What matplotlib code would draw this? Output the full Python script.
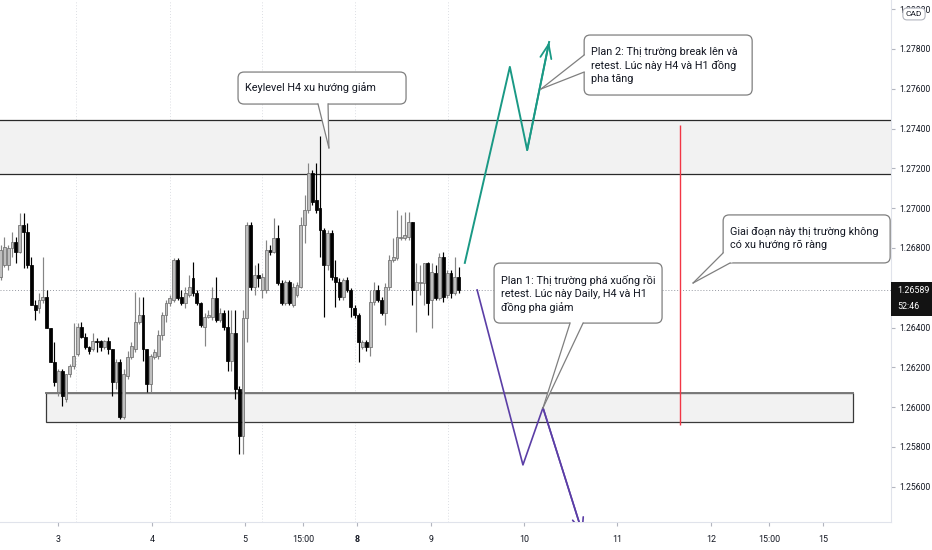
import numpy as np
import matplotlib
matplotlib.use('Agg')
import matplotlib.pyplot as plt
from matplotlib.patches import FancyBboxPatch, Polygon, Rectangle
from matplotlib.transforms import IdentityTransform

# H1 candles
opens = [1.26655, 1.26715, 1.26715, 1.26800, 1.26830, 1.26780, 1.26915, 1.26880, 1.26715, 1.26515,
         1.26500, 1.26540, 1.26555, 1.26400, 1.26225, 1.26075, 1.26180, 1.26040, 1.26165, 1.26205,
         1.26265, 1.26405, 1.26355, 1.26300, 1.26290, 1.26330, 1.26330, 1.26300, 1.26330, 1.26290,
         1.26125, 1.26225, 1.25950, 1.26155, 1.26250, 1.26290, 1.26430, 1.26465, 1.26290, 1.26115,
         1.26250, 1.26255, 1.26365, 1.26465, 1.26525, 1.26540, 1.26740, 1.26555, 1.26525, 1.26565,
         1.26650, 1.26575, 1.26525, 1.26405, 1.26455, 1.26455, 1.26550, 1.26440, 1.26475, 1.26405,
         1.26230, 1.26375, 1.26090, 1.25855, 1.26450, 1.26915, 1.26605, 1.26665, 1.26590, 1.26590,
         1.26790, 1.26780, 1.26850, 1.26625, 1.26525, 1.26630, 1.26515, 1.26565, 1.26605, 1.26915,
         1.26990, 1.27175, 1.27040, 1.27000, 1.26890, 1.26715, 1.26875, 1.26655, 1.26630, 1.26555,
         1.26640, 1.26590, 1.26500, 1.26465, 1.26300, 1.26325, 1.26300, 1.26530, 1.26590, 1.26540,
         1.26475, 1.26605, 1.26740, 1.26750, 1.26850, 1.26850, 1.26855, 1.26930, 1.26590, 1.26625,
         1.26625, 1.26725, 1.26540, 1.26675, 1.26550, 1.26755, 1.26565, 1.26675, 1.26575, 1.26655]
highs = [1.26815, 1.26855, 1.26815, 1.26880, 1.26855, 1.26975, 1.26975, 1.26925, 1.26755, 1.26540,
         1.26575, 1.26755, 1.26590, 1.26400, 1.26325, 1.26190, 1.26190, 1.26165, 1.26215, 1.26425,
         1.26425, 1.26430, 1.26375, 1.26305, 1.26375, 1.26350, 1.26340, 1.26340, 1.26355, 1.26290,
         1.26240, 1.26240, 1.26190, 1.26280, 1.26325, 1.26580, 1.26555, 1.26555, 1.26290, 1.26265,
         1.26290, 1.26390, 1.26480, 1.26540, 1.26565, 1.26750, 1.26750, 1.26590, 1.26605, 1.26665,
         1.26730, 1.26590, 1.26530, 1.26475, 1.26490, 1.26605, 1.26655, 1.26500, 1.26490, 1.26490,
         1.26490, 1.26490, 1.26105, 1.26490, 1.26930, 1.26930, 1.26715, 1.26725, 1.26675, 1.26840,
         1.26815, 1.26950, 1.26915, 1.26640, 1.26640, 1.26640, 1.26625, 1.26630, 1.26955, 1.27065,
         1.27225, 1.27190, 1.27225, 1.27365, 1.26900, 1.26890, 1.26890, 1.26740, 1.26650, 1.26650,
         1.26655, 1.26600, 1.26515, 1.26475, 1.26340, 1.26340, 1.26590, 1.26630, 1.26615, 1.26555,
         1.26625, 1.26765, 1.26850, 1.26990, 1.26965, 1.26980, 1.26980, 1.26930, 1.26725, 1.26715,
         1.26725, 1.26730, 1.26725, 1.26715, 1.26775, 1.26780, 1.26690, 1.26690, 1.26755, 1.26705]
lows = [1.26640, 1.26705, 1.26690, 1.26755, 1.26725, 1.26775, 1.26700, 1.26700, 1.26515, 1.26440,
        1.26475, 1.26525, 1.26400, 1.26225, 1.26105, 1.26055, 1.26005, 1.26025, 1.26150, 1.26190,
        1.26255, 1.26350, 1.26290, 1.26265, 1.26280, 1.26275, 1.26280, 1.26290, 1.26265, 1.26055,
        1.26090, 1.25940, 1.25940, 1.26140, 1.26240, 1.26275, 1.26420, 1.26230, 1.26075, 1.26075,
        1.26240, 1.26240, 1.26340, 1.26430, 1.26510, 1.26530, 1.26540, 1.26515, 1.26500, 1.26555,
        1.26560, 1.26515, 1.26405, 1.26305, 1.26450, 1.26440, 1.26430, 1.26430, 1.26390, 1.26180,
        1.26180, 1.26040, 1.25765, 1.25765, 1.26325, 1.26590, 1.26565, 1.26605, 1.26550, 1.26575,
        1.26765, 1.26775, 1.26615, 1.26515, 1.26515, 1.26515, 1.26505, 1.26555, 1.26600, 1.26825,
        1.26975, 1.27015, 1.26975, 1.26755, 1.26455, 1.26690, 1.26640, 1.26505, 1.26540, 1.26540,
        1.26580, 1.26455, 1.26450, 1.26225, 1.26290, 1.26280, 1.26255, 1.26515, 1.26530, 1.26465,
        1.26415, 1.26590, 1.26730, 1.26740, 1.26840, 1.26840, 1.26840, 1.26515, 1.26380, 1.26565,
        1.26515, 1.26465, 1.26400, 1.26540, 1.26540, 1.26530, 1.26550, 1.26550, 1.26565, 1.26575]
closes = [1.26790, 1.26805, 1.26800, 1.26830, 1.26780, 1.26915, 1.26880, 1.26715, 1.26515, 1.26490,
          1.26540, 1.26555, 1.26400, 1.26225, 1.26125, 1.26180, 1.26055, 1.26165, 1.26205, 1.26255,
          1.26405, 1.26355, 1.26300, 1.26280, 1.26330, 1.26325, 1.26300, 1.26330, 1.26290, 1.26125,
          1.26225, 1.25950, 1.26165, 1.26250, 1.26305, 1.26430, 1.26465, 1.26290, 1.26115, 1.26255,
          1.26275, 1.26365, 1.26465, 1.26525, 1.26550, 1.26740, 1.26550, 1.26525, 1.26575, 1.26605,
          1.26575, 1.26525, 1.26415, 1.26455, 1.26465, 1.26550, 1.26440, 1.26475, 1.26405, 1.26230,
          1.26375, 1.26090, 1.25855, 1.26450, 1.26915, 1.26605, 1.26665, 1.26650, 1.26655, 1.26790,
          1.26780, 1.26850, 1.26625, 1.26525, 1.26630, 1.26525, 1.26605, 1.26615, 1.26915, 1.26990,
          1.27175, 1.27030, 1.26990, 1.26890, 1.26715, 1.26875, 1.26655, 1.26630, 1.26555, 1.26640,
          1.26590, 1.26505, 1.26465, 1.26325, 1.26325, 1.26300, 1.26530, 1.26590, 1.26540, 1.26475,
          1.26605, 1.26740, 1.26755, 1.26855, 1.26855, 1.26865, 1.26930, 1.26590, 1.26630, 1.26630,
          1.26725, 1.26525, 1.26680, 1.26550, 1.26755, 1.26555, 1.26675, 1.26575, 1.26655, 1.26589]

last_price = 1.26589
countdown = '52:46'
price_ticks = [1.256, 1.258, 1.260, 1.262, 1.264, 1.266, 1.268, 1.270, 1.272, 1.274, 1.276, 1.278, 1.280]
day_ticks = [15, 39.4, 63.5, 78.6, 92.6, 111.8, 136, 160.1, 184.5, 199.6, 213.6]
day_labels = ['3', '4', '5', '15:00', '8', '9', '10', '11', '12', '15:00', '15']
grid_x = [19.6, 44.0, 67.9, 92.1, 116.2]

# drawings
upper_zone = (1.27172, 1.27443)
lower_zone = (11.8, 221.4, 1.25926, 1.26071)
plan2_x = [120.6, 132.3, 136.8, 142.5]
plan2_y = [1.26725, 1.27710, 1.27292, 1.27835]
plan1_x = [123.8, 135.7, 140.9, 151.25]
plan1_y = [1.26589, 1.25710, 1.25997, 1.25363]
red_x, red_y0, red_y1 = 176.5, 1.25911, 1.27418

callouts = [
    # box left (bar), box top (price), w px, h px, tip (bar, price), base points (px from box top-left), lines
    (61.7, 1.27684, 168, 32, (85.3, 1.27303), [(80, 32), (90, 32)],
     ['Keylevel H4 xu hướng giảm']),
    (151.6, 1.27870, 168, 60, (140.4, 1.27599), [(0, 20), (0, 37)],
     ['Plan 2: Thị trường break lên và', 'retest. Lúc này H4 và H1 đồng', 'pha tăng']),
    (128.2, 1.26724, 168, 60, (140.9, 1.25996), [(76, 60), (89, 60)],
     ['Plan 1: Thị trường phá xuống rồi', 'retest. Lúc này Daily, H4 và H1', 'đồng pha giảm']),
    (187.7, 1.26966, 167, 48, (179.9, 1.26624), [(0, 38), (7, 48)],
     ['Giai đoạn này thị trường không', 'có xu hướng rõ ràng']),
]

W, H = 932, 550
fig = plt.figure(figsize=(W / 100, H / 100), dpi=100)
ax = fig.add_axes([0, 28 / H, 891 / W, 522 / H])
ax.set_xlim(-0.13, 231.3)
ax.set_ylim(1.25423, 1.28046)

o = np.array(opens); h = np.array(highs); l = np.array(lows); c = np.array(closes)
x = np.arange(len(o))
up = c >= o

# zones and guide lines
ax.axhspan(*upper_zone, color='#f2f2f2', zorder=0.5, lw=0)
for yv in upper_zone:
    ax.axhline(yv, color='#2a2a2a', lw=0.9, zorder=0.6)
lz = Rectangle((lower_zone[0], lower_zone[2]), lower_zone[1] - lower_zone[0],
               lower_zone[3] - lower_zone[2], fc='#f2f2f2', ec='#3a3a3a', lw=0.9, zorder=0.5)
ax.add_patch(lz)
ax.plot([lower_zone[0], lower_zone[1]], [lower_zone[3]] * 2, color='#7a7a7a', lw=1.4, zorder=0.6)
ax.vlines(grid_x, 1.25423, 1.28046, colors='#dcdee3', linestyles=(0, (1, 2)), lw=0.7, zorder=0.3)
ax.axhline(last_price, color='#9598a1', ls=(0, (1, 2)), lw=0.7, zorder=0.7)

# candles
ax.vlines(x[up], l[up], h[up], color='#858585', lw=0.85, zorder=2)
ax.vlines(x[~up], l[~up], h[~up], color='#000000', lw=0.85, zorder=2)
body = np.maximum(np.abs(c - o), 0.00002)
ax.bar(x[up], body[up], bottom=np.minimum(o, c)[up], width=0.74,
       color='#bfbfbf', edgecolor='#6e6e6e', lw=0.55, zorder=3)
ax.bar(x[~up], body[~up], bottom=np.minimum(o, c)[~up], width=0.74,
       color='#000000', edgecolor='#000000', lw=0.55, zorder=3)

# plans
teal = '#1a9985'
purple = '#5b3ea6'
ax.plot(plan2_x, plan2_y, color=teal, lw=1.4, zorder=4)
ax.annotate('', xy=(plan2_x[-1], plan2_y[-1]), xytext=(plan2_x[-2], plan2_y[-2]),
            arrowprops=dict(arrowstyle='->,head_length=1.0,head_width=0.4', color=teal, lw=1.3,
                            shrinkA=0, shrinkB=0), zorder=4)
ax.plot(plan1_x, plan1_y, color=purple, lw=1.2, zorder=4)
ann = ax.annotate('', xy=(plan1_x[-1], plan1_y[-1]), xytext=(plan1_x[-2], plan1_y[-2]),
                  arrowprops=dict(arrowstyle='->,head_length=1.0,head_width=0.4', color=purple, lw=1.2,
                                  shrinkA=0, shrinkB=0), zorder=4, annotation_clip=False)
ann.arrow_patch.set_clip_path(ax.patch)
ax.vlines(red_x, red_y0, red_y1, color='#f23645', lw=1.0, zorder=4)

# axes styling
for s in ['top', 'left']:
    ax.spines[s].set_visible(False)
for s in ['right', 'bottom']:
    ax.spines[s].set_color('#e0e3eb')
ax.yaxis.tick_right()
# the tick under the live price label is hidden by it, so leave its text out
ax.set_yticks(price_ticks, ['' if abs(v - last_price) < 0.0003 else f'{v:.5f}' for v in price_ticks])
ax.set_xticks(day_ticks, day_labels)
axis_font = ['Roboto', 'DejaVu Sans']
ax.tick_params(axis='y', length=3, color='#b2b5be', labelcolor='#131722', labelsize=6.2, pad=3)
ax.tick_params(axis='x', length=3, color='#b2b5be', labelcolor='#131722', labelsize=6.4, pad=6)
for lab in ax.get_yticklabels() + ax.get_xticklabels():
    lab.set_family(axis_font)
ax.get_xticklabels()[4].set_fontweight('bold')

# callouts
ident = IdentityTransform()
for bx, by, bw, bh, tip, base, lines in callouts:
    x0, y0 = ax.transData.transform((bx, by))
    tx, ty = ax.transData.transform(tip)
    box = FancyBboxPatch((x0, y0 - bh), bw, bh, boxstyle='round,pad=0,rounding_size=6',
                         transform=ident, fc='white', ec='#7f7f7f', lw=0.9, zorder=6)
    fig.add_artist(box)
    b = [(x0 + dx, y0 - dy) for dx, dy in base]
    cx, cy = x0 + bw / 2, y0 - bh / 2
    cover = Polygon([b[0], (tx, ty), b[1], (cx, cy)], closed=True, transform=ident,
                    fc='white', ec='none', zorder=7)
    fig.add_artist(cover)
    for bp in b:
        fig.add_artist(plt.Line2D([bp[0], tx], [bp[1], ty], transform=ident,
                                  color='#7f7f7f', lw=0.9, zorder=8))
    for k, line in enumerate(lines):
        if len(lines) == 1:
            ly = y0 - bh / 2
        else:
            ly = y0 - 17 - 13.5 * k
        fig.text(x0 + 7, ly, line, transform=ident, ha='left', va='center',
                 fontsize=7.8, family=['Roboto', 'DejaVu Sans'], color='#131722', zorder=9)

# price label on the axis
px, py = ax.transData.transform((0, last_price))
fig.add_artist(Rectangle((891, py - 26), 41, 34, transform=ident, fc='#131313', ec='none', zorder=10))
fig.text(897, py - 1, f'{last_price:.5f}', transform=ident, ha='left', va='center',
         fontsize=6.4, family=axis_font, color='white', zorder=11)
fig.text(897, py - 17, countdown, transform=ident, ha='left', va='center',
         fontsize=6.4, family=axis_font, color='white', zorder=11)

# currency badge (sits over the 1.28000 label, as on the chart)
fig.text(914, H - 14, 'CAD', transform=ident, ha='center', va='center', fontsize=6.0,
         family=axis_font, color='#131722', zorder=11,
         bbox=dict(boxstyle='round,pad=0.35,rounding_size=0.5', fc='white', ec='#b2b5be', lw=0.8))

fig.savefig('out.png', dpi=100)
